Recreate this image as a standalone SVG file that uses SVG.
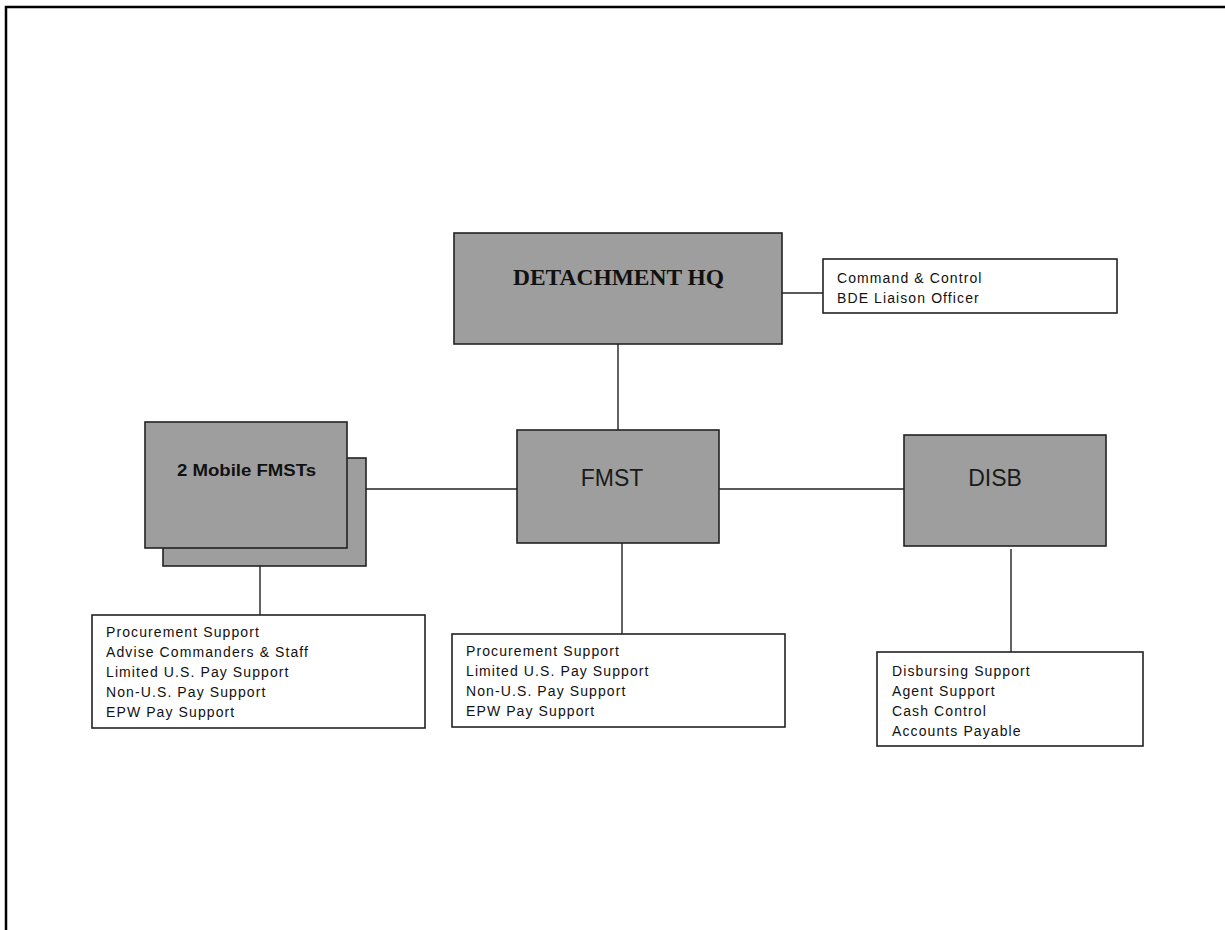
<svg xmlns="http://www.w3.org/2000/svg" width="1225" height="930" viewBox="0 0 1225 930">
<style>
.box{fill:#9e9e9e;stroke:#222;stroke-width:1.6}
.list{fill:#fff;stroke:#222;stroke-width:1.6}
.ln{stroke:#222;stroke-width:1.4;fill:none}
.t{font-family:"Liberation Sans",Arial,sans-serif;font-size:14px;letter-spacing:1.1px;fill:#111}
.big{font-family:"Liberation Sans",Arial,sans-serif;font-size:23px;fill:#1a1a1a}
</style>
<rect width="1225" height="930" fill="#fff"/>
<rect x="6" y="7" width="1300" height="1000" fill="none" stroke="#000" stroke-width="2.5"/>
<g id="connectors">
<line class="ln" x1="782" y1="293" x2="823" y2="293"/>
<line class="ln" x1="618" y1="344" x2="618" y2="430"/>
<line class="ln" x1="366" y1="489" x2="517" y2="489"/>
<line class="ln" x1="719" y1="489" x2="904" y2="489"/>
<line class="ln" x1="260" y1="566" x2="260" y2="615"/>
<line class="ln" x1="622" y1="543" x2="622" y2="634"/>
<line class="ln" x1="1011" y1="549" x2="1011" y2="652"/>
</g>
<g id="hq">
<rect class="box" x="454" y="233" width="328" height="111"/>
<text x="513" y="285" font-family="'Liberation Serif','Times New Roman',serif" font-weight="bold" font-size="24" textLength="211" lengthAdjust="spacingAndGlyphs" fill="#111">DETACHMENT HQ</text>
</g>
<g id="hq-notes">
<rect class="list" x="823" y="259" width="294" height="54"/>
<text class="t" x="837" y="283" letter-spacing="1.2">Command &amp; Control</text>
<text class="t" x="837" y="303" letter-spacing="1.2">BDE Liaison Officer</text>
</g>
<g id="mobile">
<rect class="box" x="163" y="458" width="203" height="108"/>
<rect class="box" x="145" y="422" width="202" height="126"/>
<text x="177" y="476" font-family="'Liberation Sans',Arial,sans-serif" font-weight="bold" font-size="16" textLength="139" lengthAdjust="spacingAndGlyphs" fill="#111">2 Mobile FMSTs</text>
</g>
<g id="fmst">
<rect class="box" x="517" y="430" width="202" height="113"/>
<text class="big" x="612" y="486" text-anchor="middle">FMST</text>
</g>
<g id="disb">
<rect class="box" x="904" y="435" width="202" height="111"/>
<text class="big" x="995" y="486" text-anchor="middle">DISB</text>
</g>
<g id="mobile-notes">
<rect class="list" x="92" y="615" width="333" height="113"/>
<text class="t" x="106" y="637">Procurement Support</text>
<text class="t" x="106" y="657">Advise Commanders &amp; Staff</text>
<text class="t" x="106" y="677">Limited U.S. Pay Support</text>
<text class="t" x="106" y="697">Non-U.S. Pay Support</text>
<text class="t" x="106" y="717">EPW Pay Support</text>
</g>
<g id="fmst-notes">
<rect class="list" x="452" y="634" width="333" height="93"/>
<text class="t" x="466" y="656">Procurement Support</text>
<text class="t" x="466" y="676">Limited U.S. Pay Support</text>
<text class="t" x="466" y="696">Non-U.S. Pay Support</text>
<text class="t" x="466" y="716">EPW Pay Support</text>
</g>
<g id="disb-notes">
<rect class="list" x="877" y="652" width="266" height="94"/>
<text class="t" x="892" y="676">Disbursing Support</text>
<text class="t" x="892" y="696">Agent Support</text>
<text class="t" x="892" y="716">Cash Control</text>
<text class="t" x="892" y="736">Accounts Payable</text>
</g>
</svg>
